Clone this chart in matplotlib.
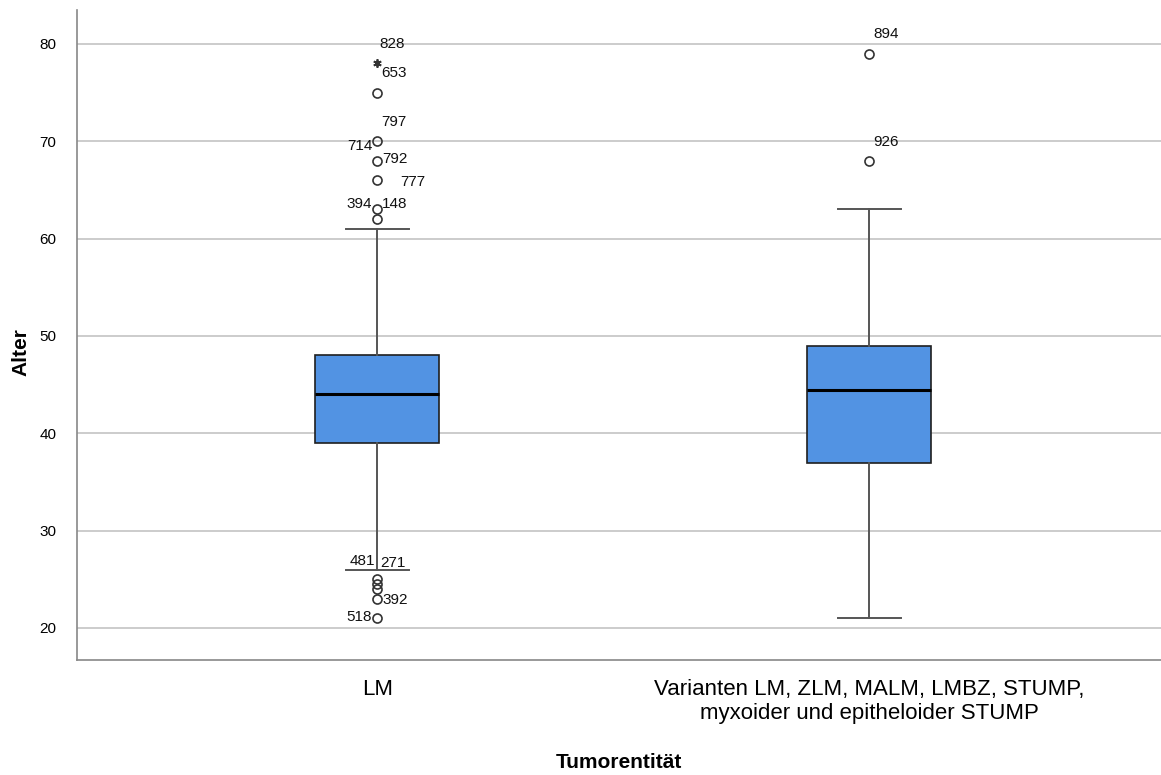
import matplotlib
matplotlib.use('Agg')
import matplotlib.pyplot as plt

# box statistics per group (Alter)
categories = ['LM', 'Varianten LM, ZLM, MALM, LMBZ, STUMP,\nmyxoider und epitheloider STUMP']
q1 = [39, 37]
medians = [44, 44.5]
q3 = [48, 49]
whisker_low = [26, 21]
whisker_high = [61, 63]

# outliers (circles) and extremes (stars)
outliers_lm = [62, 63, 66, 68, 70, 75, 25, 24.5, 24, 23, 21]
outliers_var = [68, 79]
extremes_lm = [78]
extremes_var = []

# case labels: (group, x offset, value, text, ha)
case_labels = [
    (0, 0.004, 80.0, '828', 'left'),
    (0, 0.008, 77.0, '653', 'left'),
    (0, 0.008, 72.0, '797', 'left'),
    (0, -0.010, 69.5, '714', 'right'),
    (0, 0.010, 68.2, '792', 'left'),
    (0, 0.046, 65.8, '777', 'left'),
    (0, -0.010, 63.6, '394', 'right'),
    (0, 0.010, 63.6, '148', 'left'),
    (0, -0.004, 26.9, '481', 'right'),
    (0, 0.006, 26.7, '271', 'left'),
    (0, 0.010, 22.9, '392', 'left'),
    (0, -0.010, 21.1, '518', 'right'),
    (1, 0.008, 81.0, '894', 'left'),
    (1, 0.008, 69.9, '926', 'left'),
]

plt.rcParams['font.family'] = ['Liberation Sans Narrow', 'Liberation Sans', 'DejaVu Sans']

fig = plt.figure(figsize=(11.61, 7.75), dpi=100)
ax = fig.add_axes([0.0663, 0.1484, 0.9337, 0.8387])

positions = [0, 1]
fliers = [outliers_lm, outliers_var]
stats = []
for i in range(2):
    stats.append({
        'med': medians[i], 'q1': q1[i], 'q3': q3[i],
        'whislo': whisker_low[i], 'whishi': whisker_high[i],
        'fliers': fliers[i], 'label': categories[i],
    })

ax.bxp(stats, positions=positions, widths=0.252, patch_artist=True,
       boxprops=dict(facecolor='#5293e3', edgecolor='#1f1f1f', linewidth=1.2),
       medianprops=dict(color='black', linewidth=2.2),
       whiskerprops=dict(color='#555555', linewidth=1.4),
       capprops=dict(color='#555555', linewidth=1.4),
       capwidths=0.128,
       flierprops=dict(marker='o', markersize=6.5, markerfacecolor='none',
                       markeredgecolor='#333333', markeredgewidth=1.2),
       zorder=3)

ext = [extremes_lm, extremes_var]
for i in range(2):
    if ext[i]:
        ax.plot([positions[i]] * len(ext[i]), ext[i], linestyle='none', marker=(6, 2, 0),
                markersize=6, markeredgewidth=1.3, color='#333333', zorder=4)

for g, dx, v, t, ha in case_labels:
    ax.text(positions[g] + dx, v, t, ha=ha, va='center', fontsize=11, color='#111111', zorder=5)

ax.set_xlim(-0.61, 1.593)
ax.set_ylim(16.71, 83.49)
ax.set_yticks([20, 30, 40, 50, 60, 70, 80])
ax.yaxis.grid(True, color='#c8c8c8', linewidth=1.3)
ax.set_axisbelow(True)
ax.tick_params(axis='y', length=0, pad=15, labelsize=11)
ax.tick_params(axis='x', length=0, pad=14, labelsize=16)
for lbl in ax.get_xticklabels():
    lbl.set_linespacing(1.15)
for s in ['top', 'right']:
    ax.spines[s].set_visible(False)
for s in ['left', 'bottom']:
    ax.spines[s].set_color('#888888')
    ax.spines[s].set_linewidth(1.2)

ax.set_ylabel('Alter', fontsize=15, fontweight='bold')
ax.yaxis.set_label_coords(-0.043, 0.474)
ax.set_xlabel('Tumorentität', fontsize=15, fontweight='bold')
ax.xaxis.set_label_coords(0.5, -0.157)
ax.xaxis.label.set_va('center')

fig.savefig('out.png', dpi=100)
